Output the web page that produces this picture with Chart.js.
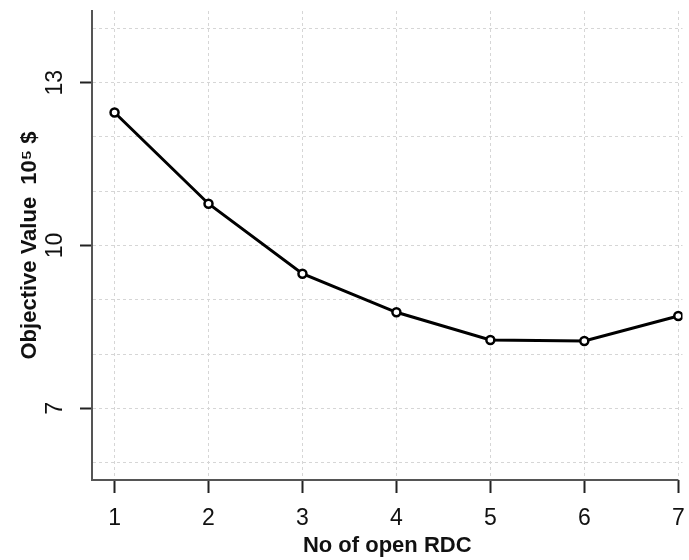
<!DOCTYPE html>
<html>
<head>
<meta charset="utf-8">
<script src="https://cdn.jsdelivr.net/npm/chart.js@4/dist/chart.umd.min.js"></script>
<style>
  html, body { margin: 0; padding: 0; background: #fff; overflow: hidden; }
</style>
</head>
<body>
<canvas id="rdc-chart" width="689" height="560"></canvas>
<script>
// number of open RDCs vs objective value (10^5 $)
const rdcCount = [1, 2, 3, 4, 5, 6, 7];
const objectiveValue = [12.45, 10.77, 9.48, 8.77, 8.26, 8.24, 8.70];
const yGridValues = [6, 7, 8, 9, 10, 11, 12, 13, 14];
const yTickLabels = [7, 10, 13];

const fontFamily = "'Liberation Sans', Arial, sans-serif";

// R-style bottom axis line: from the box corner to the last tick only
const xAxisLine = {
  id: 'xAxisLine',
  beforeDatasetsDraw(chart) {
    const {ctx, chartArea, scales: {x}} = chart;
    ctx.save();
    ctx.strokeStyle = '#555';
    ctx.lineWidth = 2;
    ctx.beginPath();
    ctx.moveTo(chartArea.left, chartArea.bottom);
    ctx.lineTo(x.getPixelForValue(rdcCount[rdcCount.length - 1]), chartArea.bottom);
    ctx.stroke();
    ctx.restore();
  }
};

new Chart(document.getElementById('rdc-chart'), {
  type: 'line',
  data: {
    datasets: [{
      data: rdcCount.map((n, i) => ({x: n, y: objectiveValue[i]})),
      borderColor: '#000',
      borderWidth: 3,
      pointRadius: 4,
      pointBorderWidth: 2.5,
      pointBorderColor: '#000',
      pointBackgroundColor: '#fff',
      tension: 0
    }]
  },
  options: {
    responsive: false,
    animation: false,
    devicePixelRatio: 1,
    layout: { padding: { top: 11, right: 0, bottom: 0, left: 0 } },
    plugins: {
      legend: { display: false },
      tooltip: { enabled: false }
    },
    scales: {
      x: {
        type: 'linear',
        min: 0.76,
        max: 7.045,
        afterBuildTicks: s => { s.ticks = rdcCount.map(v => ({value: v})); },
        afterFit: s => { s.height = 80; s.paddingLeft = 0; s.paddingRight = 0; },
        grid: {
          color: '#d6d6d6',
          lineWidth: 1,
          tickLength: 13,
          tickColor: '#222',
          tickWidth: 2,
          tickBorderDash: []
        },
        border: { display: false, dash: [3, 3] },
        ticks: {
          autoSkip: false,
          maxRotation: 0,
          padding: 12,
          color: '#111',
          font: { family: fontFamily, size: 23 }
        },
        title: {
          display: true,
          text: 'No of open RDC',
          color: '#111',
          padding: { top: 0, bottom: 1 },
          font: { family: fontFamily, size: 22, weight: 'bold' }
        }
      },
      y: {
        type: 'linear',
        min: 5.68,
        max: 14.32,
        afterBuildTicks: s => { s.ticks = yGridValues.map(v => ({value: v})); },
        afterFit: s => { s.width = 92; s.paddingTop = 0; s.paddingBottom = 0; },
        grid: {
          color: '#d6d6d6',
          lineWidth: 1,
          tickLength: 12,
          tickWidth: 2,
          tickBorderDash: [],
          tickColor: ctx => (ctx.tick && yTickLabels.includes(ctx.tick.value)) ? '#222' : 'rgba(0,0,0,0)'
        },
        border: { display: true, color: '#555', width: 2, dash: [3, 3] },
        ticks: {
          autoSkip: false,
          minRotation: 90,
          maxRotation: 90,
          crossAlign: 'center',
          padding: 12,
          color: '#111',
          font: { family: fontFamily, size: 23 },
          callback: v => yTickLabels.includes(v) ? String(v) : ''
        },
        title: {
          display: true,
          text: 'Objective Value  10\u2075 $',
          color: '#111',
          padding: { top: 17, bottom: 0 },
          font: { family: fontFamily, size: 22, weight: 'bold' }
        }
      }
    }
  },
  plugins: [xAxisLine]
});
</script>
</body>
</html>
